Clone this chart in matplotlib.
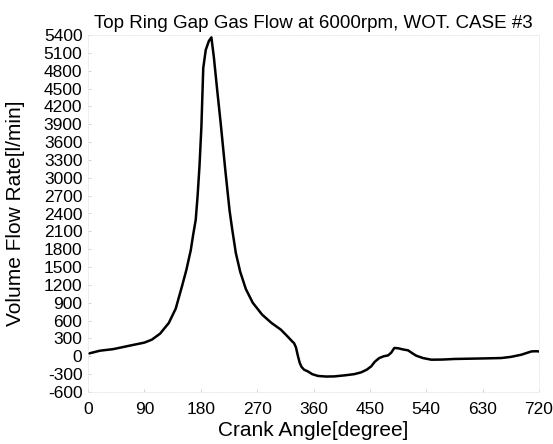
import numpy as np
import matplotlib
matplotlib.use("Agg")
import matplotlib.pyplot as plt

# crank angle [deg] and volume flow rate [l/min]
crank_angle = [0, 10, 19, 40, 67, 90, 102, 115, 129, 140, 150, 157, 164, 168, 172,
               175, 178, 181, 184, 188, 193, 197, 201, 206, 212, 219, 226, 230,
               236, 243, 252, 263, 278, 293, 308, 318, 326, 329, 332, 335, 338,
               341, 345, 351, 358, 367, 380, 393, 410, 425, 436, 445, 452, 458,
               465, 472, 479, 484, 489, 495, 503, 511, 518, 524, 535, 548, 565,
               585, 610, 635, 660, 675, 692, 700, 708, 715, 720]
flow_rate = [44, 70, 94, 120, 180, 230, 280, 380, 560, 800, 1175, 1450, 1780, 2050,
             2296, 2700, 3200, 3850, 4845, 5150, 5300, 5360, 5020, 4500, 3900,
             3150, 2450, 2150, 1736, 1420, 1130, 900, 700, 560, 447, 340, 250,
             220, 150, 10, -110, -180, -225, -254, -300, -330, -340, -338, -320,
             -300, -270, -225, -170, -90, -29, 0, 15, 60, 140, 135, 115, 100,
             50, 10, -30, -57, -55, -45, -40, -35, -29, -10, 27, 55, 82, 85, 82]

fam = ['Liberation Sans', 'DejaVu Sans']
plt.rcParams['font.family'] = fam
plt.rcParams['axes.unicode_minus'] = False

fig = plt.figure(figsize=(5.53, 4.44), dpi=100)
ax = fig.add_axes([88 / 553, 1 - 392 / 444, (539 - 88) / 553, (392 - 35) / 444])

ax.plot(crank_angle, flow_rate, color='black', linewidth=1.8)

ax.set_xlim(0, 720)
ax.set_ylim(-600, 5400)
ax.set_xticks(np.arange(0, 721, 90))
ax.set_yticks(np.arange(-600, 5401, 300))

for lbl in ax.get_xticklabels() + ax.get_yticklabels():
    lbl.set_family(fam)
    lbl.set_fontsize(12.5)

ax.tick_params(axis='both', direction='in', length=2, color='#cccccc', width=0.6)
ax.tick_params(axis='y', pad=4)
ax.tick_params(axis='x', pad=7)

# frame in the scan is barely visible
for side in ax.spines.values():
    side.set_color('#e6e6e6')
    side.set_linewidth(0.6)
    side.set_linestyle(':')

ax.set_xlabel('Crank Angle[degree]', fontsize=15, family=fam)
ax.set_ylabel('Volume Flow Rate[l/min]', fontsize=15, family=fam)
ax.xaxis.set_label_coords(0.5, -0.082)
ax.yaxis.set_label_coords(-0.14, 0.5)
ax.set_title('Top Ring Gap Gas Flow at 6000rpm, WOT. CASE #3', fontsize=13.5,
             family=fam, pad=5)

fig.savefig('out.png', dpi=100)
